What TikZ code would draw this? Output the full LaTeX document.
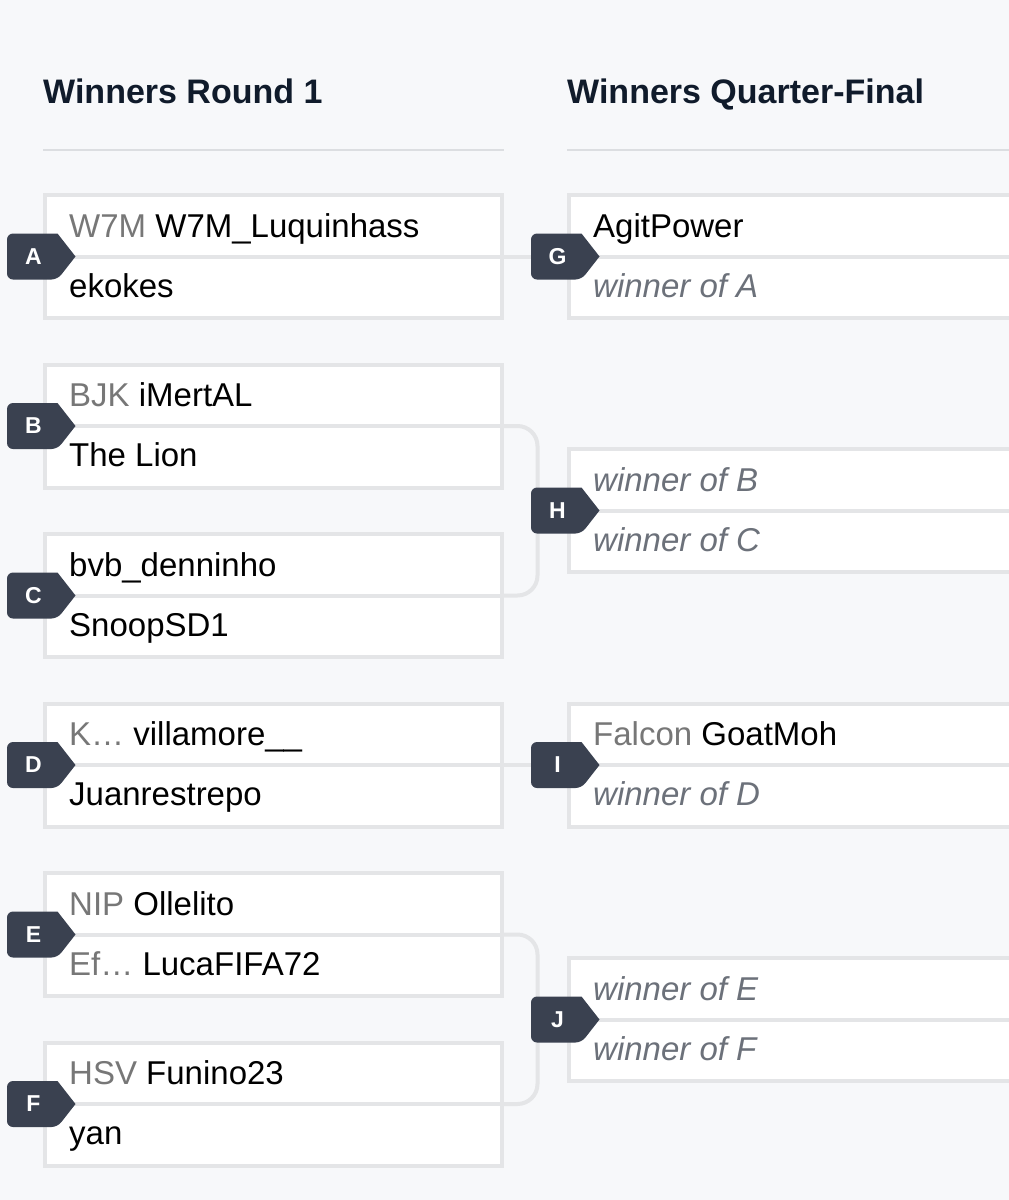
\documentclass[tikz,border=0pt]{standalone}
\usepackage{fontspec}
\setmainfont{Liberation Sans}
\usepackage{tikz}
\usetikzlibrary{calc}
\usetikzlibrary{positioning}

\definecolor{pagebg}{HTML}{F7F8FA}
\definecolor{framec}{HTML}{E4E5E7}
\definecolor{rulec}{HTML}{DCDEE1}
\definecolor{headc}{HTML}{101B2B}
\definecolor{tagbg}{HTML}{3A4150}
\definecolor{clanc}{HTML}{777777}
\definecolor{tbdc}{HTML}{6C717A}

\tikzset{
  matchbox/.style={draw=framec, fill=white, line width=4pt,
    minimum width=457pt, minimum height=123pt, inner sep=0pt},
  qfbox/.style={matchbox, minimum width=600pt},
  link/.style={draw=framec, line width=4pt, rounded corners=20pt},
  player/.style={anchor=base west, inner sep=0pt, font=\fontsize{33}{40}\selectfont},
  tbd/.style={player, text=tbdc, font=\fontsize{33}{40}\selectfont\itshape},
  tagtext/.style={text=white, inner sep=0pt, font=\fontsize{23}{28}\selectfont\bfseries},
  heading/.style={anchor=base west, inner sep=0pt, text=headc,
    font=\fontsize{34}{40}\selectfont\bfseries},
}

\newcommand{\clan}[1]{\textcolor{clanc}{#1}}
% match letter: name, centre, letter
\newcommand{\mtag}[3]{%
  \begin{scope}[shift={#2}]
    \fill[tagbg, rounded corners=6pt] (24,-23) -- (-26.5,-23) -- (-26.5,23) -- (24,23)
      [sharp corners] -- (42,0) -- cycle;
  \end{scope}
  \node[tagtext] (#1) at #2 {#3};
}

\begin{document}
\begin{tikzpicture}[x=1pt, y=-1pt]
  \fill[pagebg] (0,0) rectangle (1009,1200);
  \clip (0,0) rectangle (1009,1200);

  \node[heading] (h1) at (43,103) {Winners Round 1};
  \node[heading] (h2) at (567,103) {Winners Quarter-Final};
  \draw[rulec, line width=2pt] (43,150) -- (504,150);
  \draw[rulec, line width=2pt] (567,150) -- (1009,150);

  % round 1
  \node[matchbox] (mA) at (273.5,256.5) {};
  \node[matchbox] (mB) at (273.5,426) {};
  \node[matchbox] (mC) at (273.5,595.5) {};
  \node[matchbox] (mD) at (273.5,765) {};
  \node[matchbox] (mE) at (273.5,934.5) {};
  \node[matchbox] (mF) at (273.5,1104) {};

  % quarter-finals
  \node[qfbox] (mG) at (869,256.5) {};
  \node[qfbox] (mH) at (869,510.5) {};
  \node[qfbox] (mI) at (869,765) {};
  \node[qfbox] (mJ) at (869,1019.5) {};

  \draw[link] (mA.east) -- (mG.west);
  \draw[link] (mB.east) -- ++(33.5,0) |- (mC.east);
  \draw[link] (mH.west) -- ++(-33.5,0);
  \draw[link] (mD.east) -- (mI.west);
  \draw[link] (mE.east) -- ++(33.5,0) |- (mF.east);
  \draw[link] (mJ.west) -- ++(-33.5,0);

  \foreach \m in {A,B,C,D,E,F,G,H,I,J}
    \draw[framec, line width=4pt] (m\m.west) -- (m\m.east);

  \node[player] (pA1) at (69,237) {\clan{W7M} W7M\_Luquinhass};
  \node[player] (pA2) at (69,297) {ekokes};
  \node[player] (pB1) at (69,406.5) {\clan{BJK} iMertAL};
  \node[player] (pB2) at (69,466.5) {The Lion};
  \node[player] (pC1) at (69,576) {bvb\_denninho};
  \node[player] (pC2) at (69,636) {SnoopSD1};
  \node[player] (pD1) at (69,745.5) {\clan{K…} villamore\_\_};
  \node[player] (pD2) at (69,805.5) {Juanrestrepo};
  \node[player] (pE1) at (69,915) {\clan{NIP} Ollelito};
  \node[player] (pE2) at (69,975) {\clan{Ef…} LucaFIFA72};
  \node[player] (pF1) at (69,1084.5) {\clan{HSV} Funino23};
  \node[player] (pF2) at (69,1144.5) {yan};

  \node[player] (pG1) at (593,237) {AgitPower};
  \node[tbd] (pG2) at (593,297) {winner of A};
  \node[tbd] (pH1) at (593,491) {winner of B};
  \node[tbd] (pH2) at (593,551) {winner of C};
  \node[player] (pI1) at (593,745.5) {\clan{Falcon} GoatMoh};
  \node[tbd] (pI2) at (593,805.5) {winner of D};
  \node[tbd] (pJ1) at (593,1000) {winner of E};
  \node[tbd] (pJ2) at (593,1060) {winner of F};

  \mtag{tA}{(33.5,256.5)}{A}
  \mtag{tB}{(33.5,426)}{B}
  \mtag{tC}{(33.5,595.5)}{C}
  \mtag{tD}{(33.5,765)}{D}
  \mtag{tE}{(33.5,934.5)}{E}
  \mtag{tF}{(33.5,1104)}{F}
  \mtag{tG}{(557.5,256.5)}{G}
  \mtag{tH}{(557.5,510.5)}{H}
  \mtag{tI}{(557.5,765)}{I}
  \mtag{tJ}{(557.5,1019.5)}{J}
\end{tikzpicture}
\end{document}
